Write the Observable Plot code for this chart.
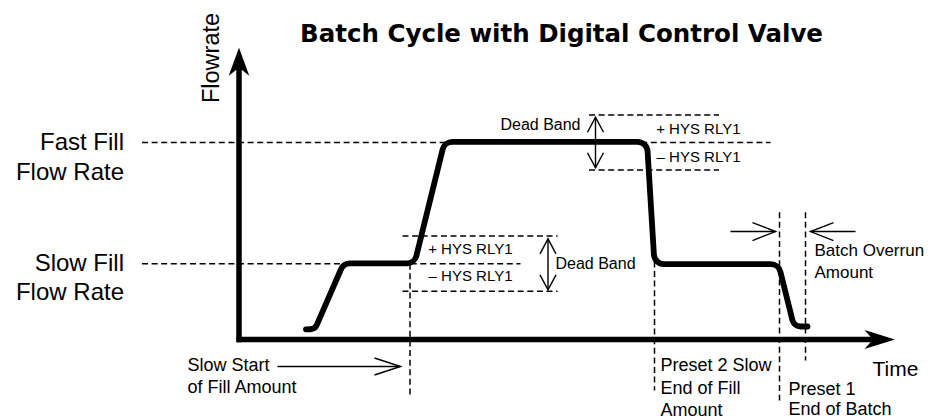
<!DOCTYPE html>
<html>
<head>
<meta charset="utf-8">
<script src="https://cdn.jsdelivr.net/npm/d3@7"></script>
<script src="https://cdn.jsdelivr.net/npm/@observablehq/plot@0.6"></script>
<style>
  html, body { margin: 0; padding: 0; background: #fff; }
  #chart svg { display: block; }
</style>
</head>
<body>
<div id="chart"></div>
<script>
// ---------------- data (time units / flow units) ----------------
const title = "Batch Cycle with Digital Control Valve";
const yTitle = "Flowrate";
const xTitle = "Time";

// batch flow profile (vertices of the cycle curve)
const cycleTime = [6.7, 7.6, 10.45, 17.55, 20.55, 40.8, 41.55, 53.95, 55.5, 56.85];
const cycleFlow = [5.1, 5.3, 38.6, 38.6, 100.3, 100.3, 38.3, 38.3, 6.6, 6.6];

// dashed reference levels: fast rate, slow rate, fast ±HYS, slow ±HYS
const levelFlow  = [100, 38.5, 114, 86, 52.5, 24.5];
const levelStart = [-9.7, -9.7, 35, 35, 16.35, 16.35];
const levelEnd   = [53.15, 28.15, 48, 48, 31.85, 31.85];

// dashed event markers: slow start, preset 2, preset 1, overrun end
const markTime   = [17.1, 41.55, 54.05, 56.65];
const markTop    = [38.5, 49.4, 64.6, 64.6];
const markBottom = [-28.4, -25.9, -31, -10.7];

// single-headed annotation arrows
const arrowFrom  = [3.85, 49.15, 61.65];
const arrowTo    = [16.15, 53.65, 57.15];
const arrowFlow  = [-13.7, 54.8, 54.8];
const arrowSize  = ["long", "mid", "mid"];

// dead band double arrows
const bandTime   = [35.65, 30.9];
const bandTop    = [112.8, 51.1];
const bandBottom = [87.2, 25.2];

// axes (shaft ends)
const axisX1 = [-0.25, 0];
const axisX2 = [63.4, 0];
const axisY1 = [0, -1.4];
const axisY2 = [0, 138];

// level labels (left)
const levelLabels = ["Fast Fill", "Flow Rate", "Slow Fill", "Flow Rate"];
const levelLabelX = [-11.5, -11.5, -11.5, -11.5];
const levelLabelY = [100, 85.1, 38.6, 23.7];

// bottom / event labels
const eventLabels = ["Slow Start", "of Fill Amount", "Preset 2 Slow", "End of Fill", "Amount", "Preset 1", "End of Batch"];
const eventLabelX = [-5.15, -5.15, 42.15, 42.15, 42.15, 54.95, 54.95];
const eventLabelY = [-13.2, -24.4, -13.2, -24.7, -36.0, -25.3, -35.6];

const overrunLabels = ["Batch Overrun", "Amount"];
const overrunLabelX = [57.55, 57.55];
const overrunLabelY = [45.3, 34.2];

const hysLabels = ["+ HYS RLY1", "\u2013 HYS RLY1", "+ HYS RLY1", "\u2013 HYS RLY1"];
const hysLabelX = [50.15, 50.15, 27.35, 27.35];
const hysLabelY = [106.6, 92.4, 45.7, 32.0];

const bandLabels = ["Dead Band", "Dead Band"];
const bandLabelX = [34.15, 31.65];
const bandLabelY = [109.1, 38.6];
const bandLabelAnchor = ["end", "start"];

// ---------------- helpers ----------------
const FONT = "'Liberation Sans', Arial, Helvetica, sans-serif";

// line curve with rounded corners
function roundedCurve(radius) {
  return (context) => {
    let pts = [];
    return {
      areaStart() {}, areaEnd() {},
      lineStart() { pts = []; },
      point(x, y) { pts.push([+x, +y]); },
      lineEnd() {
        const n = pts.length;
        if (!n) return;
        context.moveTo(pts[0][0], pts[0][1]);
        for (let i = 1; i < n - 1; i++) {
          const [px, py] = pts[i - 1], [cx, cy] = pts[i], [nx, ny] = pts[i + 1];
          const l1 = Math.hypot(px - cx, py - cy), l2 = Math.hypot(nx - cx, ny - cy);
          const ux = (px - cx) / l1, uy = (py - cy) / l1, vx = (nx - cx) / l2, vy = (ny - cy) / l2;
          const phi = Math.acos(Math.max(-1, Math.min(1, ux * vx + uy * vy)));
          if (phi > 3.1) { context.lineTo(cx, cy); continue; }
          const t = Math.tan(phi / 2);
          const d = Math.min(radius / t, l1 / 2, l2 / 2);
          context.arcTo(cx, cy, nx, ny, d * t);
        }
        context.lineTo(pts[n - 1][0], pts[n - 1][1]);
      }
    };
  };
}

// open "V" arrow head, tip at the origin, pointing along (dx, dy)
function openHead(dx, dy, L, W) {
  return {
    draw(ctx) {
      const px = -dy, py = dx;
      ctx.moveTo(-dx * L + px * W, -dy * L + py * W);
      ctx.lineTo(0, 0);
      ctx.lineTo(-dx * L - px * W, -dy * L - py * W);
    }
  };
}
// filled barbed head, notch at the origin, pointing along (dx, dy)
function barbHead(dx, dy, T, B, W) {
  return {
    draw(ctx) {
      const px = -dy, py = dx;
      ctx.moveTo(dx * T, dy * T);
      ctx.lineTo(-dx * B + px * W, -dy * B + py * W);
      ctx.lineTo(0, 0);
      ctx.lineTo(-dx * B - px * W, -dy * B - py * W);
      ctx.closePath();
    }
  };
}
const headDims = { long: [26, 8.5], mid: [23, 9] };

const dashed = { stroke: "#000", strokeWidth: 1.5, strokeDasharray: "6,3.6" };

const arrowHeadMarks = arrowTo.map((x, i) => {
  const dir = arrowTo[i] > arrowFrom[i] ? 1 : -1;
  const [L, W] = headDims[arrowSize[i]];
  return Plot.dot([i], {
    x: [x], y: [arrowFlow[i]],
    symbol: openHead(dir, 0, L, W), r: 5,
    fill: "none", stroke: "#000", strokeWidth: 1.4
  });
});

const chart = Plot.plot({
  width: 934,
  height: 419,
  margin: 0,
  x: { domain: [0, 65.5], range: [238.5, 893.5], axis: null },
  y: { domain: [0, 100], range: [339, 142], axis: null },
  style: { background: "#fff", color: "#000", fontFamily: FONT },
  marks: [
    // dashed levels and markers
    Plot.link(levelFlow, { x1: levelStart, x2: levelEnd, y1: levelFlow, y2: levelFlow, ...dashed }),
    Plot.link(markTime, { x1: markTime, x2: markTime, y1: markTop, y2: markBottom, ...dashed }),

    // axes
    Plot.link(axisX1, { x1: axisX1, x2: axisX2, y1: axisY1, y2: axisY2, stroke: "#000", strokeWidth: 5.5 }),
    Plot.dot([0], { x: [axisX2[0]], y: [axisY1[0]], symbol: barbHead(1, 0, 22, 8.5, 9.5), r: 5, fill: "#000", stroke: "none" }),
    Plot.dot([0], { x: [axisX1[1]], y: [axisY2[1]], symbol: barbHead(0, -1, 20, 8, 10.3), r: 5, fill: "#000", stroke: "none" }),

    // batch curve
    Plot.line(cycleTime, {
      x: cycleTime, y: cycleFlow, curve: roundedCurve(10),
      stroke: "#000", strokeWidth: 5.8, strokeLinecap: "round", strokeLinejoin: "round"
    }),

    // annotation arrows
    Plot.link(arrowFrom, { x1: arrowFrom, x2: arrowTo, y1: arrowFlow, y2: arrowFlow, stroke: "#000", strokeWidth: 1.4 }),
    ...arrowHeadMarks,
    Plot.link(bandTime, { x1: bandTime, x2: bandTime, y1: bandTop, y2: bandBottom, stroke: "#000", strokeWidth: 1.4 }),
    Plot.dot(bandTime, { x: bandTime, y: bandTop, symbol: openHead(0, -1, 15, 8), r: 5, fill: "none", stroke: "#000", strokeWidth: 1.4 }),
    Plot.dot(bandTime, { x: bandTime, y: bandBottom, symbol: openHead(0, 1, 15, 8), r: 5, fill: "none", stroke: "#000", strokeWidth: 1.4 }),

    // texts
    Plot.text([title], { x: [32.25], y: [154.8], text: [title], fontSize: 24.5, fontWeight: "bold", fontFamily: "'DejaVu Sans', sans-serif", textAnchor: "middle", fill: "#000" }),
    Plot.text([yTitle], { x: [-2.75], y: [142.9], text: [yTitle], rotate: -90, fontSize: 23.5, fontFamily: FONT, textAnchor: "middle", fill: "#000" }),
    Plot.text([xTitle], { x: [63.35], y: [-15.2], text: [xTitle], fontSize: 21, fontFamily: FONT, textAnchor: "start", fill: "#000" }),
    Plot.text(levelLabels, { x: levelLabelX, y: levelLabelY, text: levelLabels, fontSize: 24, fontFamily: FONT, textAnchor: "end", fill: "#000" }),
    Plot.text(eventLabels, { x: eventLabelX, y: eventLabelY, text: eventLabels, fontSize: 18, fontFamily: FONT, textAnchor: "start", fill: "#000" }),
    Plot.text(overrunLabels, { x: overrunLabelX, y: overrunLabelY, text: overrunLabels, fontSize: 17, fontFamily: FONT, textAnchor: "start", fill: "#000" }),
    Plot.text(hysLabels, { x: hysLabelX, y: hysLabelY, text: hysLabels, fontSize: 15, fontFamily: FONT, textAnchor: "end", fill: "#000" }),
    Plot.text([bandLabels[0]], { x: [bandLabelX[0]], y: [bandLabelY[0]], text: [bandLabels[0]], fontSize: 16, fontFamily: FONT, textAnchor: bandLabelAnchor[0], fill: "#000" }),
    Plot.text([bandLabels[1]], { x: [bandLabelX[1]], y: [bandLabelY[1]], text: [bandLabels[1]], fontSize: 16, fontFamily: FONT, textAnchor: bandLabelAnchor[1], fill: "#000" })
  ]
});
document.getElementById("chart").appendChild(chart);
</script>
</body>
</html>
